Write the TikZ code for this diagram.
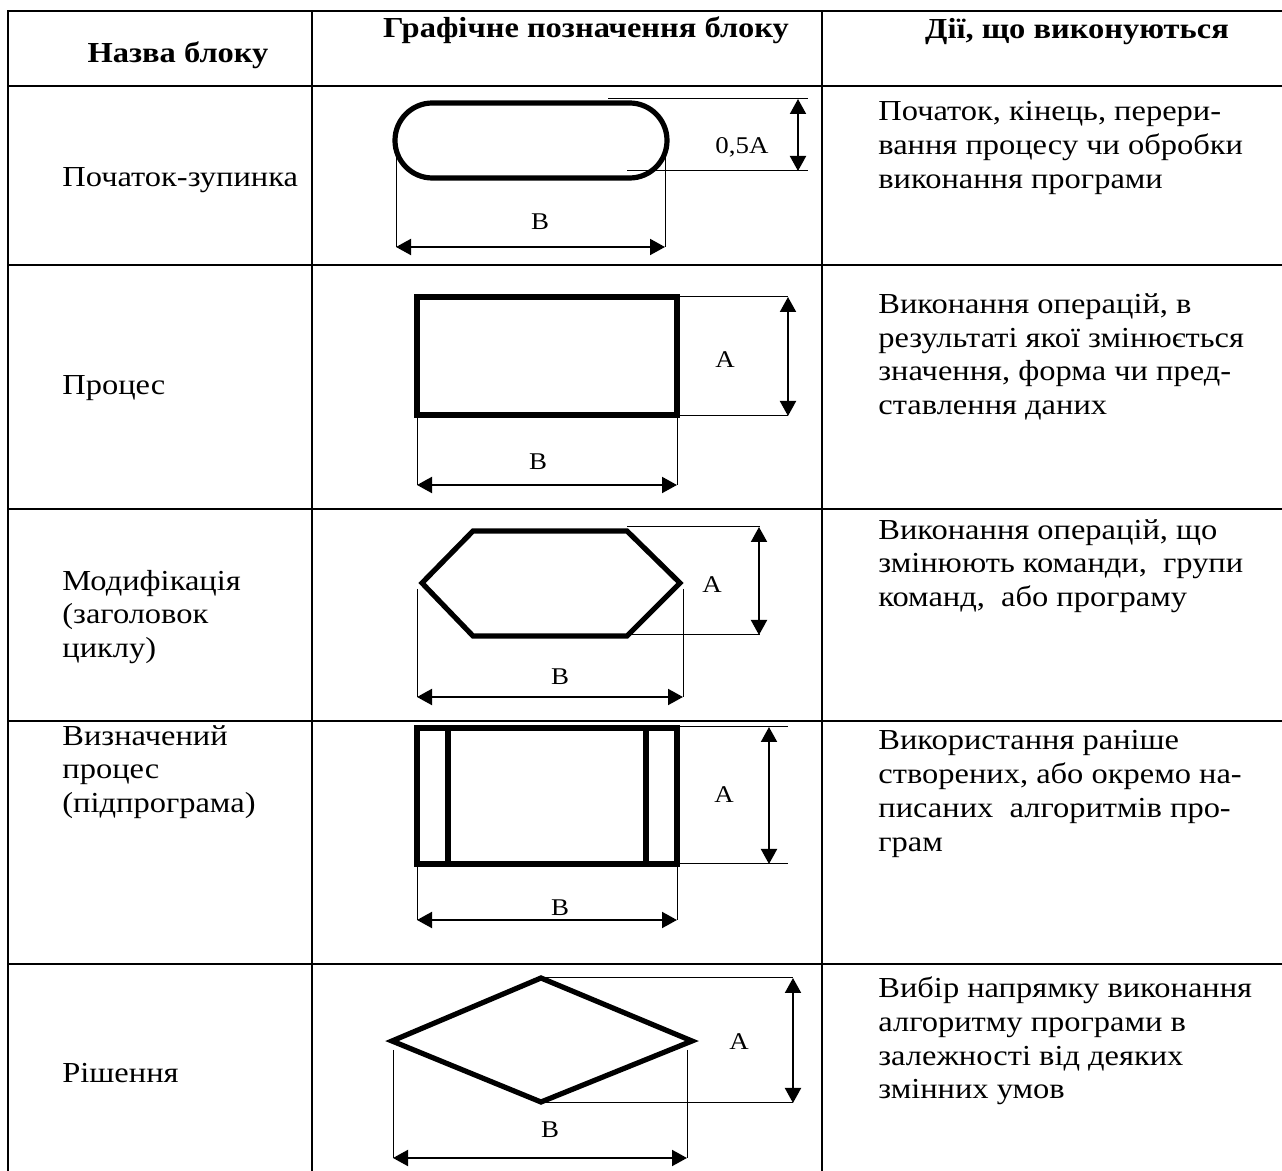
\documentclass[tikz,border=0pt]{standalone}
\usepackage{fontspec}
\setmainfont{Liberation Serif}[FakeStretch=1.12]
\usetikzlibrary{arrows.meta}
\tikzset{
  every picture/.style={x=0.5pt, y=-0.5pt},
  grid/.style={line width=1pt},
  block/.style={line width=2.6pt},
  ext/.style={line width=0.5pt},
  dim/.style={{Triangle[length=7.5pt,width=8pt]}-{Triangle[length=7.5pt,width=8pt]}, line width=1pt},
  head/.style={font=\fontsize{14.5}{17}\selectfont\bfseries, inner sep=0pt},
  cell/.style={font=\fontsize{14.5}{16.85}\selectfont, align=left, anchor=west, inner sep=0pt},
  lbl/.style={font=\fontsize{12}{14}\selectfont, inner sep=0pt},
}
\begin{document}
\begin{tikzpicture}
  \useasboundingbox (0,0) rectangle (1282,1171);
  % table
  \draw[grid] (8,1171) -- (8,11) -- (1282,11);
  \foreach \y in {86,265,509,721,964} \draw[grid] (8,\y) -- (1282,\y);
  \foreach \x in {312,822} \draw[grid] (\x,11) -- (\x,1171);
  \node[head] (h1) at (178,55) {Назва блоку};
  \node[head] (h2) at (586,30) {Графічне позначення блоку};
  \node[head] (h3) at (1077,32) {Дії, що виконуються};
  % block names
  \node[cell] (n1) at (62,180) {Початок-зупинка};
  \node[cell] (n2) at (62,388) {Процес};
  \node[cell] (n3) at (62,617) {Модифікація\\(заголовок\\циклу)};
  \node[cell] (n4) at (62,772) {Визначений\\процес\\(підпрограма)};
  \node[cell] (n5) at (62,1073) {Рішення};
  % actions
  \node[cell] (d1) at (878,148) {Початок, кінець, перери-\\вання процесу чи обробки\\виконання програми};
  \node[cell] (d2) at (878,357) {Виконання операцій, в\\результаті якої змінюється\\значення, форма чи пред-\\ставлення даних};
  \node[cell] (d3) at (878,566) {Виконання операцій, що\\змінюють команди,\ \ групи\\команд,\ \ або програму};
  \node[cell] (d4) at (878,794) {Використання раніше\\створених, або окремо на-\\писаних\ \ алгоритмів про-\\грам};
  \node[cell] (d5) at (878,1041) {Вибір напрямку виконання\\алгоритму програми в\\залежності від деяких\\змінних умов};
  % block symbols
  \draw[block, rounded corners=18.7pt] (395,103) rectangle (667,178);
  \draw[block] (417,297) rectangle (677,415);
  \draw[block] (473,531) -- (627,531) -- (680,583) -- (627,636) -- (473,636) -- (422,583) -- cycle;
  \draw[block] (417,728) rectangle (677,864) (448,728) -- (448,864) (646,728) -- (646,864);
  \draw[block] (541,978) -- (692,1041) -- (541,1102) -- (392,1041) -- cycle;
  % width B
  \foreach \r/\xl/\xr/\ys/\ya/\bx/\by in {1/396/665/155/247/540/222, 2/417/677/416/485/538/462,
      3/417/683/589/697/560/677, 4/417/677/864/920/560/908, 5/393/687/1050/1158/550/1130} {
    \coordinate (bl\r) at (\xl,\ya);
    \coordinate (br\r) at (\xr,\ya);
    \draw[ext] (\xl,\ys) -- (bl\r) (\xr,\ys) -- (br\r);
    \draw[dim] (bl\r) -- (br\r);
    \node[lbl] (b\r) at (\bx,\by) {B};
  }
  % height A
  \foreach \r/\xt/\xb/\xe/\xa/\yt/\yb/\lx/\ly/\txt in {1/608/627/808/798/99/171/742/147/{0,5A},
      2/677/677/788/788/297/416/725/360/A, 3/627/627/760/759/527/635/712/585/A,
      4/677/677/788/769/727/864/724/795/A, 5/541/541/793/793/978/1103/739/1042/A} {
    \coordinate (at\r) at (\xa,\yt);
    \coordinate (ab\r) at (\xa,\yb);
    \draw[ext] (\xt,\yt) -- (\xe,\yt) (\xb,\yb) -- (\xe,\yb);
    \draw[dim] (at\r) -- (ab\r);
    \node[lbl] (a\r) at (\lx,\ly) {\txt};
  }
\end{tikzpicture}
\end{document}
